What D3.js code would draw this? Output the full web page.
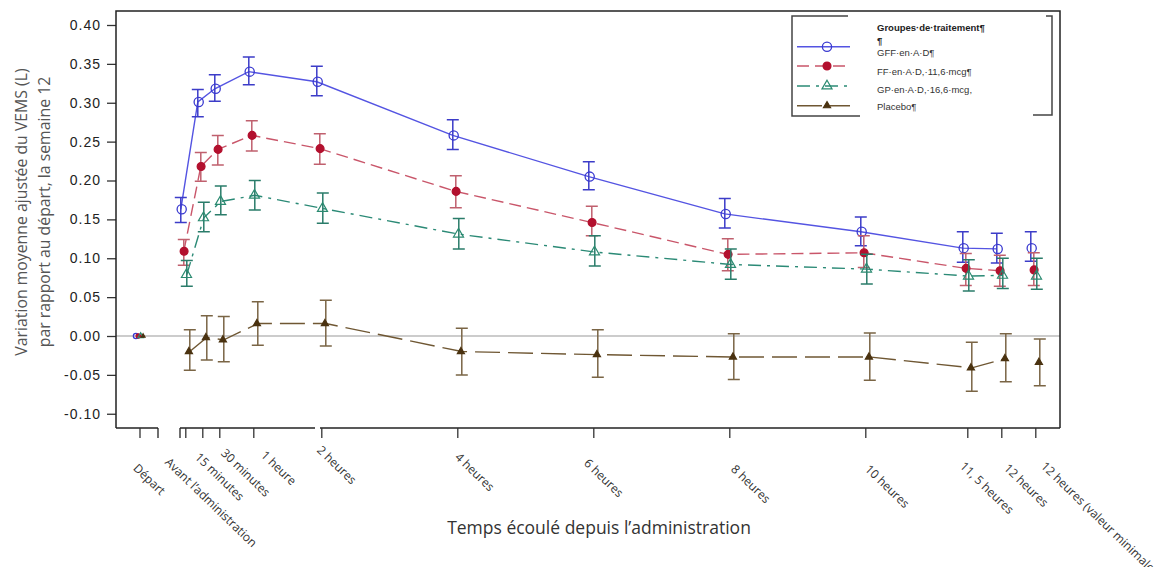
<!DOCTYPE html>
<html>
<head>
<meta charset="utf-8">
<script src="https://cdn.jsdelivr.net/npm/d3@7"></script>
<style>
  body { margin: 0; background: #fff; }
  svg { display: block; }
</style>
</head>
<body>
<svg id="chart" width="1161" height="567"></svg>
<script>
// Time points on the x axis (hours after dosing; "Départ" sits in its own slot before 0)
const timeLabels = ["Départ", "Avant l’administration", "15 minutes", "30 minutes", "1 heure", "2 heures",
  "4 heures", "6 heures", "8 heures", "10 heures", "11, 5 heures", "12 heures", "12 heures (valeur minimale)"];
const timeHours = [-1, 0, 0.25, 0.5, 1, 2, 4, 6, 8, 10, 11.5, 12, 12.5];

// Y axis ticks
const yTicks = [-0.10, -0.05, 0.00, 0.05, 0.10, 0.15, 0.20, 0.25, 0.30, 0.35, 0.40];

// Treatment groups
const groupNames = ["GFF·en·A·D¶", "FF·en·A·D,·11,6·mcg¶", "GP·en·A·D,·16,6·mcg,", "Placebo¶"];

// Adjusted mean change in FEV1 (L) and the bounds of the error bars, one entry per time point
const gffMean  = [0, 0.163, 0.301, 0.318, 0.340, 0.327, 0.258, 0.205, 0.157, 0.134, 0.113, 0.112, 0.113];
const gffLow   = [null, 0.146, 0.282, 0.302, 0.323, 0.309, 0.240, 0.188, 0.139, 0.116, 0.095, 0.094, 0.096];
const gffHigh  = [null, 0.178, 0.317, 0.336, 0.359, 0.347, 0.278, 0.224, 0.177, 0.153, 0.134, 0.132, 0.134];

const ffMean   = [0, 0.109, 0.218, 0.240, 0.258, 0.241, 0.186, 0.146, 0.105, 0.107, 0.087, 0.084, 0.085];
const ffLow    = [null, 0.091, 0.199, 0.220, 0.238, 0.221, 0.165, 0.129, 0.084, 0.088, 0.065, 0.064, 0.065];
const ffHigh   = [null, 0.124, 0.236, 0.258, 0.277, 0.260, 0.206, 0.167, 0.125, 0.129, 0.106, 0.104, 0.107];

const gpMean   = [0, 0.079, 0.152, 0.173, 0.181, 0.164, 0.131, 0.108, 0.092, 0.086, 0.077, 0.078, 0.077];
const gpLow    = [null, 0.064, 0.134, 0.156, 0.162, 0.145, 0.112, 0.090, 0.073, 0.067, 0.058, 0.061, 0.060];
const gpHigh   = [null, 0.097, 0.172, 0.193, 0.200, 0.184, 0.151, 0.129, 0.112, 0.105, 0.098, 0.100, 0.100];

const pboMean  = [0, -0.020, -0.002, -0.005, 0.016, 0.016, -0.020, -0.024, -0.027, -0.027, -0.041, -0.029, -0.034];
const pboLow   = [null, -0.044, -0.031, -0.033, -0.012, -0.013, -0.050, -0.053, -0.056, -0.057, -0.071, -0.059, -0.064];
const pboHigh  = [null, 0.008, 0.026, 0.025, 0.044, 0.046, 0.010, 0.008, 0.003, 0.004, -0.008, 0.003, -0.004];

// Drawing styles per group
const styles = [
  { line: "#5454e2", bar: "#3c3cc8", mark: "#3a3ad0", dash: null,       symbol: "circle",   filled: false, size: 4.6, dx: -4.5 },
  { line: "#c9566a", bar: "#c0606e", mark: "#b3102e", dash: "12,6",     symbol: "circle",   filled: true,  size: 3.9, dx: -1.5 },
  { line: "#2b8a76", bar: "#2a7c6a", mark: "#2a8a70", dash: "13,6,3,6", symbol: "triangle", filled: false, size: 44,  dx: 1.5 },
  { line: "#6f5733", bar: "#7a6545", mark: "#4a3210", dash: "25,8",     symbol: "triangle", filled: true,  size: 22,  dx: 4.5 }
];

const series = [
  { name: groupNames[0], mean: gffMean, low: gffLow, high: gffHigh },
  { name: groupNames[1], mean: ffMean,  low: ffLow,  high: ffHigh },
  { name: groupNames[2], mean: gpMean,  low: gpLow,  high: gpHigh },
  { name: groupNames[3], mean: pboMean, low: pboLow, high: pboHigh }
];

const svg = d3.select("#chart");

// Plot frame
const frame = { left: 116, right: 1060, top: 11, bottom: 428 };

// Piecewise time scale: the baseline slot is compressed before time 0
const x = d3.scaleLinear()
  .domain([-1, 0, 12.5])
  .range([139.5, 185.3, 1035.3]);

const y = d3.scaleLinear()
  .domain([-0.10, 0.40])
  .range([413.75, 25]);

// Zero reference line
svg.append("line")
  .attr("x1", frame.left).attr("x2", frame.right)
  .attr("y1", y(0)).attr("y2", y(0))
  .attr("stroke", "#9a9a9a").attr("stroke-width", 1.1);

// Y axis
const yAxis = svg.append("g")
  .attr("transform", `translate(${frame.left},0)`)
  .call(d3.axisLeft(y).tickValues(yTicks).tickSize(9).tickPadding(6)
    .tickFormat(d => d.toFixed(2)));
yAxis.select(".domain").remove();
yAxis.selectAll(".tick line").attr("stroke", "#333").attr("stroke-width", 1.3);
yAxis.selectAll(".tick text")
  .attr("font-family", "'Liberation Sans', Arial, sans-serif")
  .attr("font-size", 14).attr("letter-spacing", 1).attr("fill", "#222");

// Frame lines (left, top, right)
const frameColor = "#222";
svg.append("path")
  .attr("d", `M${frame.left},${frame.bottom}V${frame.top}H${frame.right}V${frame.bottom}`)
  .attr("fill", "none").attr("stroke", frameColor).attr("stroke-width", 1.5);

// Bottom axis drawn in broken segments
const bottomSegments = [[frame.left, 158], [180, 315], [320, frame.right]];
svg.selectAll(".xseg").data(bottomSegments).join("line")
  .attr("class", "xseg")
  .attr("x1", d => d[0]).attr("x2", d => d[1])
  .attr("y1", frame.bottom).attr("y2", frame.bottom)
  .attr("stroke", frameColor).attr("stroke-width", 1.5);
// Break marks at the ends of the first gap
svg.selectAll(".xbreak").data([158, 180]).join("line")
  .attr("class", "xbreak")
  .attr("x1", d => d).attr("x2", d => d)
  .attr("y1", frame.bottom).attr("y2", frame.bottom + 10)
  .attr("stroke", frameColor).attr("stroke-width", 1.3);

// X ticks and rotated labels
const xAxis = svg.append("g")
  .attr("transform", `translate(0,${frame.bottom})`)
  .call(d3.axisBottom(x).tickValues(timeHours).tickSize(10).tickFormat(""));
xAxis.select(".domain").remove();
xAxis.selectAll(".tick line").attr("stroke", "#333").attr("stroke-width", 1.3);

// Label anchors are spread a little around their ticks so the crowded early labels stay legible
const labelShift = [[-7, 41], [-21, 35], [-8, 30], [1, 26], [7, 28], [-5, 23],
  [-3, 30], [-10, 36], [1, 42], [-1, 42], [-8, 39], [2, 41], [5, 39]];
svg.selectAll(".xlabel").data(timeHours).join("text")
  .attr("class", "xlabel")
  .attr("transform", (d, i) => `translate(${x(d) + labelShift[i][0]},${frame.bottom + labelShift[i][1]}) rotate(44)`)
  .attr("font-family", "'Open Sans', sans-serif")
  .attr("font-size", 12)
  .attr("fill", "#333")
  .text((d, i) => timeLabels[i]);

// Axis titles
svg.append("text")
  .attr("x", 599).attr("y", 534)
  .attr("text-anchor", "middle")
  .attr("font-family", "'Open Sans', sans-serif")
  .attr("font-size", 17.5).attr("fill", "#333")
  .text("Temps écoulé depuis l’administration");

const yTitle = svg.append("text")
  .attr("transform", "translate(0,212) rotate(-90)")
  .attr("text-anchor", "middle")
  .attr("font-family", "'Open Sans', sans-serif")
  .attr("font-size", 15.8).attr("fill", "#555");
yTitle.append("tspan").attr("x", 0).attr("y", 27).text("Variation moyenne ajustée du VEMS (L)");
yTitle.append("tspan").attr("x", 0).attr("y", 49.5).text("par rapport au départ, la semaine 12");

// Marker drawing helper
function drawMarker(g, st, cx, cy, scale) {
  if (st.symbol === "circle") {
    g.append("circle")
      .attr("cx", cx).attr("cy", cy)
      .attr("r", st.size * scale)
      .attr("fill", st.filled ? st.mark : "none")
      .attr("stroke", st.mark).attr("stroke-width", 1.3);
  } else {
    g.append("path")
      .attr("transform", `translate(${cx},${cy})`)
      .attr("d", d3.symbol(d3.symbolTriangle, st.size * scale * scale)())
      .attr("fill", st.filled ? st.mark : "none")
      .attr("stroke", st.mark).attr("stroke-width", 1.2);
  }
}

// Series: lines over the post-dose points up to 12 h, error bars, markers
series.forEach((s, k) => {
  const st = styles[k];
  const g = svg.append("g");
  const pts = timeHours.map((t, i) => ({ t, i, v: s.mean[i], lo: s.low[i], hi: s.high[i] }));
  const connected = pts.filter(p => p.i >= 1 && p.i <= 11);

  g.append("path")
    .datum(connected)
    .attr("d", d3.line().x(p => x(p.t) + st.dx).y(p => y(p.v)))
    .attr("fill", "none")
    .attr("stroke", st.line).attr("stroke-width", 1.4)
    .attr("stroke-dasharray", st.dash);

  pts.filter(p => p.lo !== null).forEach(p => {
    const cx = x(p.t) + st.dx;
    g.append("path")
      .attr("d", `M${cx},${y(p.lo)}V${y(p.hi)}M${cx - 6},${y(p.lo)}H${cx + 6}M${cx - 6},${y(p.hi)}H${cx + 6}`)
      .attr("fill", "none").attr("stroke", st.bar).attr("stroke-width", 1.5);
  });

  pts.forEach(p => {
    drawMarker(g, st, x(p.t) + st.dx * 0.8, y(p.v), p.i === 0 ? 0.55 : 1);
  });
});

// Legend
const lg = svg.append("g");
lg.append("path")
  .attr("d", "M848,16H792V116H860")
  .attr("fill", "none").attr("stroke", "#444").attr("stroke-width", 1.5);
lg.append("path")
  .attr("d", "M1046,16H1052V115H1033")
  .attr("fill", "none").attr("stroke", "#444").attr("stroke-width", 1.5);
lg.append("text")
  .attr("x", 877).attr("y", 30.5)
  .attr("font-family", "'Liberation Sans', Arial, sans-serif")
  .attr("font-size", 9.5).attr("font-weight", "bold").attr("fill", "#222")
  .text("Groupes·de·traitement¶");
lg.append("text")
  .attr("x", 877).attr("y", 44)
  .attr("font-family", "'Liberation Sans', Arial, sans-serif")
  .attr("font-size", 9.5).attr("font-weight", "bold").attr("fill", "#222")
  .text("¶");
const legendLineY = [46.7, 66, 86, 105.7];
const legendTextY = [56, 74.5, 92.5, 110];
series.forEach((s, k) => {
  const st = styles[k];
  const ly = legendLineY[k];
  lg.append("line")
    .attr("x1", 797).attr("x2", 850).attr("y1", ly).attr("y2", ly)
    .attr("stroke", st.line).attr("stroke-width", 1.5)
    .attr("stroke-dasharray", st.dash);
  drawMarker(lg, st, 827, ly, 1);
  lg.append("text")
    .attr("x", 877).attr("y", legendTextY[k])
    .attr("font-family", "'Liberation Sans', Arial, sans-serif")
    .attr("font-size", 9.5).attr("fill", "#333")
    .text(s.name);
});
</script>
</body>
</html>
